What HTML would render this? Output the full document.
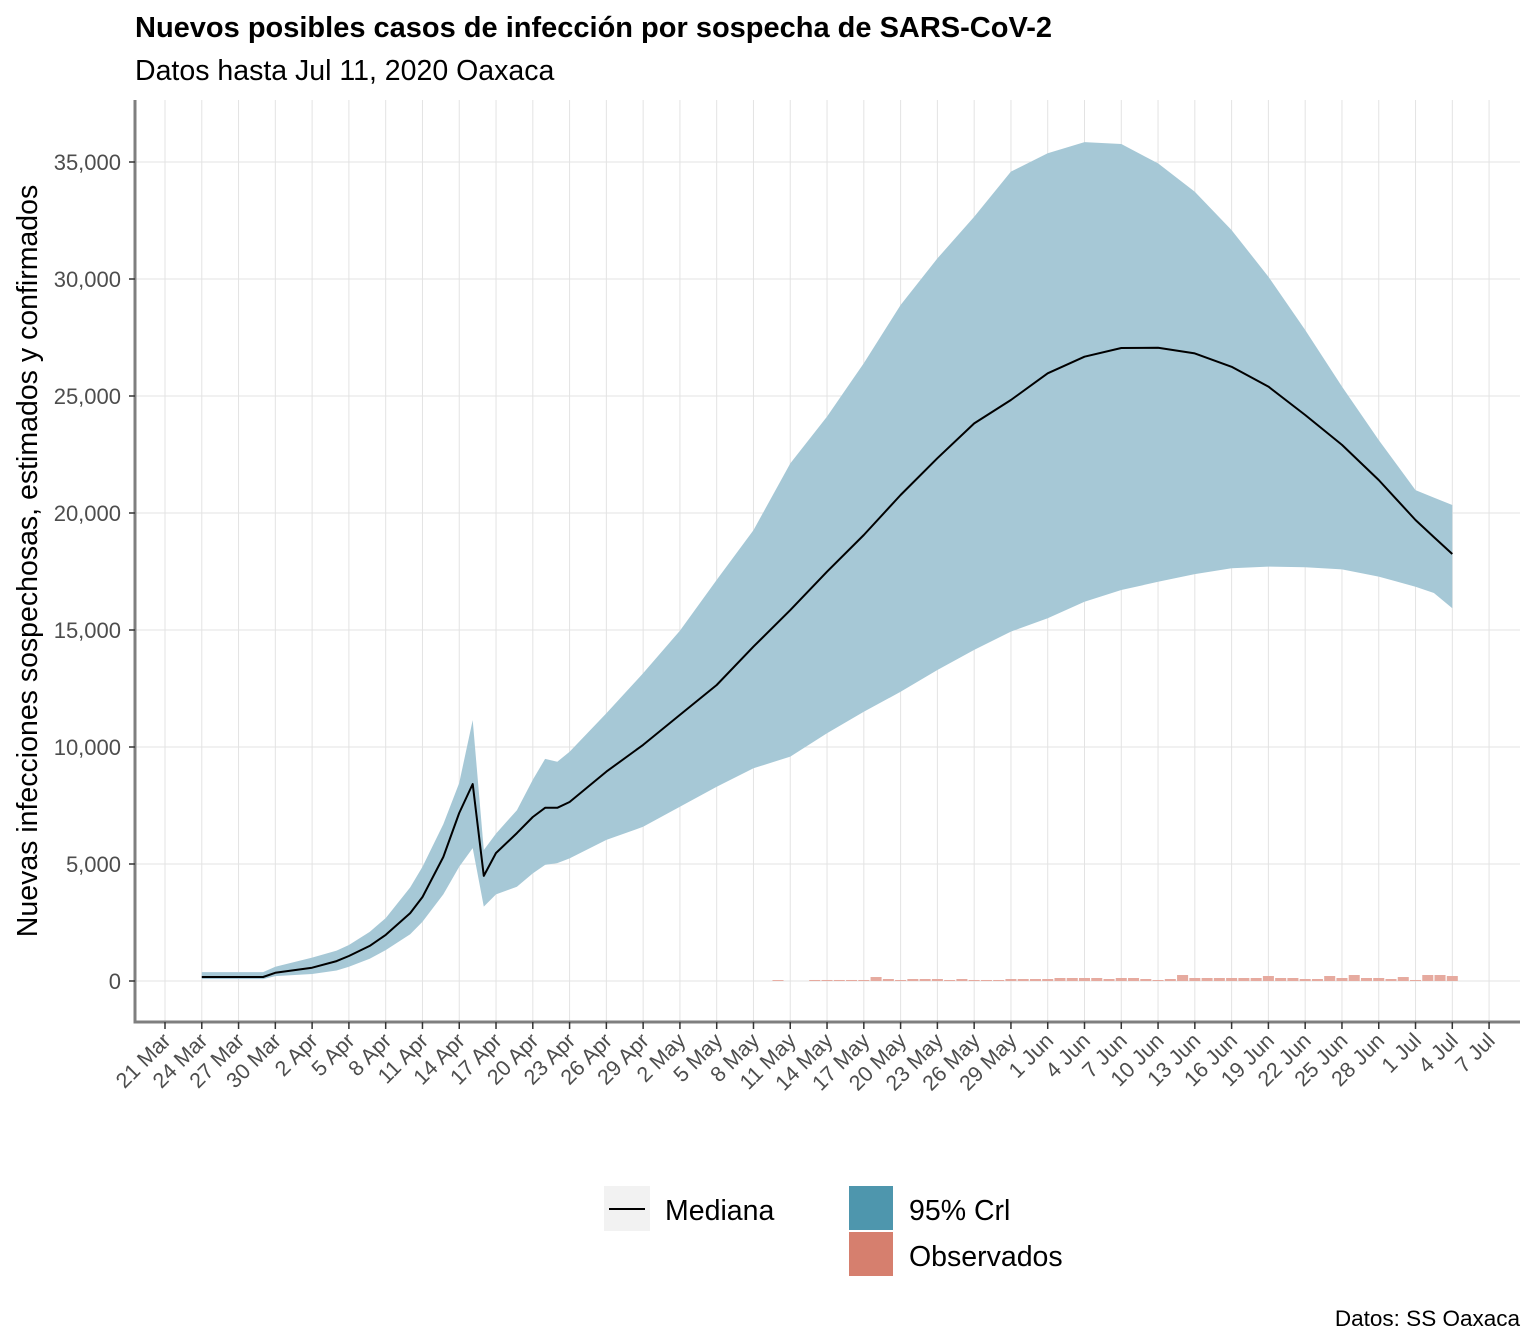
<!DOCTYPE html>
<html><head><meta charset="utf-8">
<style>
html,body{margin:0;padding:0;background:#fff;}
svg{display:block;font-family:"Liberation Sans",Arial,sans-serif;}
</style></head>
<body>
<svg id="chart" width="1536" height="1344" viewBox="0 0 1536 1344">
<text x="135" y="37" font-size="29" font-weight="bold" fill="#000">Nuevos posibles casos de infección por sospecha de SARS-CoV-2</text>
<text x="135" y="80" font-size="28.5" fill="#000">Datos hasta Jul 11, 2020 Oaxaca</text>
<text transform="translate(37,561) rotate(-90)" text-anchor="middle" font-size="28.5" fill="#000">Nuevas infecciones sospechosas, estimados y confirmados</text>
<g id="grid"></g>
<g id="bars"></g>
<path id="band" fill="#a6c8d6"/>
<path id="median" fill="none" stroke="#000" stroke-width="2" stroke-linejoin="round"/>
<g id="axes"></g>
<g>
  <g>
    <rect x="604" y="1186" width="46" height="45" fill="#f2f2f2"/>
    <line x1="609" y1="1209" x2="645" y2="1209" stroke="#000" stroke-width="2"/>
    <text x="665" y="1220" font-size="28.5">Mediana</text>
  </g>
  <g>
    <rect x="849" y="1186" width="44" height="44" fill="#4e96ad"/>
    <text x="909" y="1220" font-size="28.5">95% Crl</text>
  </g>
  <g>
    <rect x="849" y="1232" width="44" height="44" fill="#d67f6e"/>
    <text x="909" y="1266" font-size="28.5">Observados</text>
  </g>
</g>
<text x="1520" y="1326" text-anchor="end" font-size="22.5">Datos: SS Oaxaca</text>
</svg>
<script>
// days since 21 Mar 2020
const curveDays = [3,8,9,12,14,15,16.7,18,20,21,22.7,24,25.1,26,27,28.7,30,31,32,33,36,39,42,45,48,51,54,57,60,63,66,69,72,75,78,81,84,87,90,93,96,99,102,103.5,105];
const medianVals = [170,170,350,570,850,1070,1500,1970,2900,3590,5300,7180,8420,4490,5470,6320,7010,7400,7400,7650,8950,10090,11370,12650,14290,15850,17490,19060,20770,22340,23830,24830,25970,26680,27050,27060,26820,26250,25400,24190,22910,21410,19700,18970,18250];
const upperVals = [380,380,610,1000,1300,1540,2100,2690,4000,4880,6700,8460,11150,5600,6300,7300,8600,9490,9370,9800,11440,13150,14970,17140,19270,22120,24120,26400,28890,30880,32660,34590,35370,35850,35770,34940,33730,32090,30100,27820,25400,23120,20980,20660,20340];
const lowerVals = [80,80,210,300,450,610,950,1320,2000,2530,3700,4880,5680,3180,3700,4030,4600,4960,5040,5240,6030,6590,7450,8300,9090,9590,10590,11510,12360,13290,14150,14930,15500,16210,16710,17060,17390,17640,17710,17680,17590,17280,16850,16580,15930];
const barDays = [50,53,54,55,56,57,58,59,60,61,62,63,64,65,66,67,68,69,70,71,72,73,74,75,76,77,78,79,80,81,82,83,84,85,86,87,88,89,90,91,92,93,94,95,96,97,98,99,100,101,102,103,104,105];
const barVals = [40,43,43,43,43,43,170,85,43,85,85,85,43,85,43,43,43,85,85,85,85,128,128,128,128,85,128,128,85,43,85,256,128,128,128,128,128,128,213,128,128,85,85,213,128,256,128,128,85,170,43,256,256,213];
const yTicks = [0,5000,10000,15000,20000,25000,30000,35000];
const yTickLabels = ["0","5,000","10,000","15,000","20,000","25,000","30,000","35,000"];
const xTickDays = [0,3,6,9,12,15,18,21,24,27,30,33,36,39,42,45,48,51,54,57,60,63,66,69,72,75,78,81,84,87,90,93,96,99,102,105,108];
const xTickLabels = ["21 Mar","24 Mar","27 Mar","30 Mar","2 Apr","5 Apr","8 Apr","11 Apr","14 Apr","17 Apr","20 Apr","23 Apr","26 Apr","29 Apr","2 May","5 May","8 May","11 May","14 May","17 May","20 May","23 May","26 May","29 May","1 Jun","4 Jun","7 Jun","10 Jun","13 Jun","16 Jun","19 Jun","22 Jun","25 Jun","28 Jun","1 Jul","4 Jul","7 Jul"];

const NS="http://www.w3.org/2000/svg";
const PL=135, PR=1520, PT=100, PB=1022;
const xs = d => 165 + d*12.26;
const ys = v => 981 - v*0.0234;
function mk(tag, attrs, parent){const e=document.createElementNS(NS,tag);for(const k in attrs)e.setAttribute(k,attrs[k]);parent.appendChild(e);return e;}

const grid=document.getElementById('grid');
yTicks.forEach(v=>{
  const l=mk('line',{x1:PL,x2:PR,y1:ys(v),y2:ys(v),stroke:'#e3e3e3','stroke-width':1},grid);
  
  
});
xTickDays.forEach(d=>{
  const l=mk('line',{x1:xs(d),x2:xs(d),y1:PT,y2:PB,stroke:'#e3e3e3','stroke-width':1},grid);
  
  
});

const bars=document.getElementById('bars');
barDays.forEach((d,i)=>{
  const w=12.26*0.9;
  const r=mk('rect',{x:xs(d)-w/2,y:ys(barVals[i]),width:w,height:ys(0)-ys(barVals[i]),fill:'#e6aa9f'},bars);
  
  
});

let bp='M'+curveDays.map((d,i)=>xs(d).toFixed(1)+','+ys(upperVals[i]).toFixed(1)).join('L');
for(let i=curveDays.length-1;i>=0;i--) bp+='L'+xs(curveDays[i]).toFixed(1)+','+ys(lowerVals[i]).toFixed(1);
document.getElementById('band').setAttribute('d',bp+'Z');
document.getElementById('median').setAttribute('d','M'+curveDays.map((d,i)=>xs(d).toFixed(1)+','+ys(medianVals[i]).toFixed(1)).join('L'));

const axes=document.getElementById('axes');
mk('line',{x1:PL,x2:PL,y1:PT,y2:PB+1.5,stroke:'#7f7f7f','stroke-width':3},axes);
mk('line',{x1:PL-1.5,x2:PR,y1:PB,y2:PB,stroke:'#7f7f7f','stroke-width':3},axes);
yTicks.forEach((v,i)=>{
  mk('line',{x1:PL-6,x2:PL,y1:ys(v),y2:ys(v),stroke:'#333','stroke-width':1.5},axes);
  const t=mk('text',{x:PL-14,y:ys(v)+8,'text-anchor':'end','font-size':22,fill:'#4d4d4d'},axes);
  t.textContent=yTickLabels[i];
  
  
});
xTickDays.forEach((d,i)=>{
  mk('line',{x1:xs(d),x2:xs(d),y1:PB,y2:PB+7,stroke:'#333','stroke-width':1.5},axes);
  const t=mk('text',{transform:`translate(${xs(d)+7},${PB+20}) rotate(-45)`,'text-anchor':'end','font-size':21.5,fill:'#4d4d4d'},axes);
  t.textContent=xTickLabels[i];
  
  
});
</script>
</body></html>
